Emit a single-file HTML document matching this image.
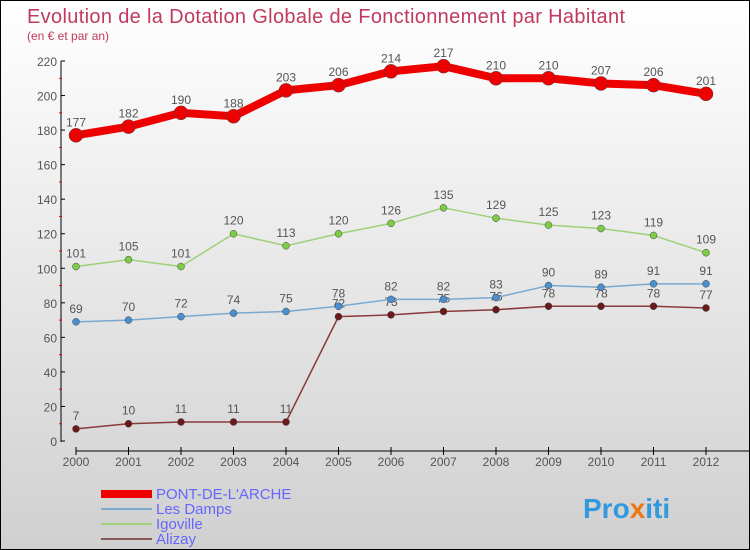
<!DOCTYPE html>
<html><head><meta charset="utf-8"><style>
body{margin:0}
#c{position:relative;width:750px;height:550px;box-sizing:border-box;border:1px solid #000;background:linear-gradient(#fff,#d0d0d0);font-family:"Liberation Sans",sans-serif;overflow:hidden}
</style></head><body>
<div id="c">
<svg id="s" width="750" height="550" style="position:absolute;left:0;top:0">
<text x="26" y="22" font-size="20" fill="#c0395f" textLength="598">Evolution de la Dotation Globale de Fonctionnement par Habitant</text>
<text x="26" y="39" font-size="12" fill="#c0395f">(en € et par an)</text>
<g id="axes"></g><g id="series"></g>
<g>
<rect x="100" y="489" width="51" height="8" fill="#e00"/>
<text x="155" y="498" font-size="15" fill="#6666ff">PONT-DE-L'ARCHE</text>
<rect x="100" y="507" width="51" height="2" fill="#7aa9cf"/>
<text x="155" y="513" font-size="15" fill="#6666ff">Les Damps</text>
<rect x="100" y="522" width="51" height="2" fill="#9ed07a"/>
<text x="155" y="528" font-size="15" fill="#6666ff">Igoville</text>
<rect x="100" y="537" width="51" height="2" fill="#8a5a5a"/>
<text x="155" y="543" font-size="15" fill="#6666ff">Alizay</text>
</g>
<g font-size="28" font-weight="bold">
<text x="582" y="517"><tspan fill="#3399dd">Pro</tspan><tspan fill="#ee7711">x</tspan><tspan fill="#3399dd">iti</tspan></text>
</g>
</svg>
</div>
<script>
const years=[2000,2001,2002,2003,2004,2005,2006,2007,2008,2009,2010,2011,2012];
const pont=[177,182,190,188,203,206,214,217,210,210,207,206,201];
const damps=[69,70,72,74,75,78,82,82,83,90,89,91,91];
const igoville=[101,105,101,120,113,120,126,135,129,125,123,119,109];
const alizay=[7,10,11,11,11,72,73,75,76,78,78,78,77];
const yTicks=[0,20,40,60,80,100,120,140,160,180,200,220];
const NS="http://www.w3.org/2000/svg";
const X=i=>75+i*52.5, Y=v=>440-v*(380/220);
function mk(t,a,p){const e=document.createElementNS(NS,t);for(const k in a)e.setAttribute(k,a[k]);p.appendChild(e);return e;}
const ax=document.getElementById('axes'), sg=document.getElementById('series');
let e=mk('line',{x1:60,y1:Y(220),x2:60,y2:441,stroke:'#000'},ax);

e=mk('line',{x1:75,y1:450,x2:750,y2:450,stroke:'#000'},ax);

yTicks.forEach(v=>{
 mk('line',{x1:60,y1:Y(v),x2:64,y2:Y(v),stroke:'#000'},ax);
 if(v<220)mk('line',{x1:58,y1:Y(v+10),x2:61,y2:Y(v+10),stroke:'#e00'},ax);
 const t=mk('text',{x:56,y:Y(v)+5,'font-size':12,fill:'#555','text-anchor':'end'},ax);t.textContent=v;
 
});
years.forEach((y,i)=>{
 mk('line',{x1:X(i),y1:446,x2:X(i),y2:454,stroke:'#000'},ax);
 const t=mk('text',{x:X(i),y:465,'font-size':12,fill:'#555','text-anchor':'middle'},ax);t.textContent=y;
 
});
function series(d,col,w,r,name,fill){
 const g=mk('g',{},sg);
 
 mk('polyline',{points:d.map((v,i)=>X(i)+','+Y(v)).join(' '),fill:'none',stroke:col,'stroke-width':w,'stroke-linejoin':'round'},g);
 d.forEach((v,i)=>{
  const c=mk('circle',{cx:X(i),cy:Y(v),r:r,fill:fill,stroke:'#444','stroke-width':0.5},g);
  
  const t=mk('text',{x:X(i),y:Y(v)-9,'font-size':12,fill:'#555','text-anchor':'middle'},g);t.textContent=v;
 });
}
series(alizay,'#8a3a3a',1.5,3.5,'alizay','#6a1a1a');
series(damps,'#7aa9cf',1.5,3.5,'les-damps','#4a8fcf');
series(igoville,'#9ed07a',1.5,3.5,'igoville','#7ccc44');
series(pont,'#e00',8,7,'pont-de-larche','#e00');
</script>
</body></html>
